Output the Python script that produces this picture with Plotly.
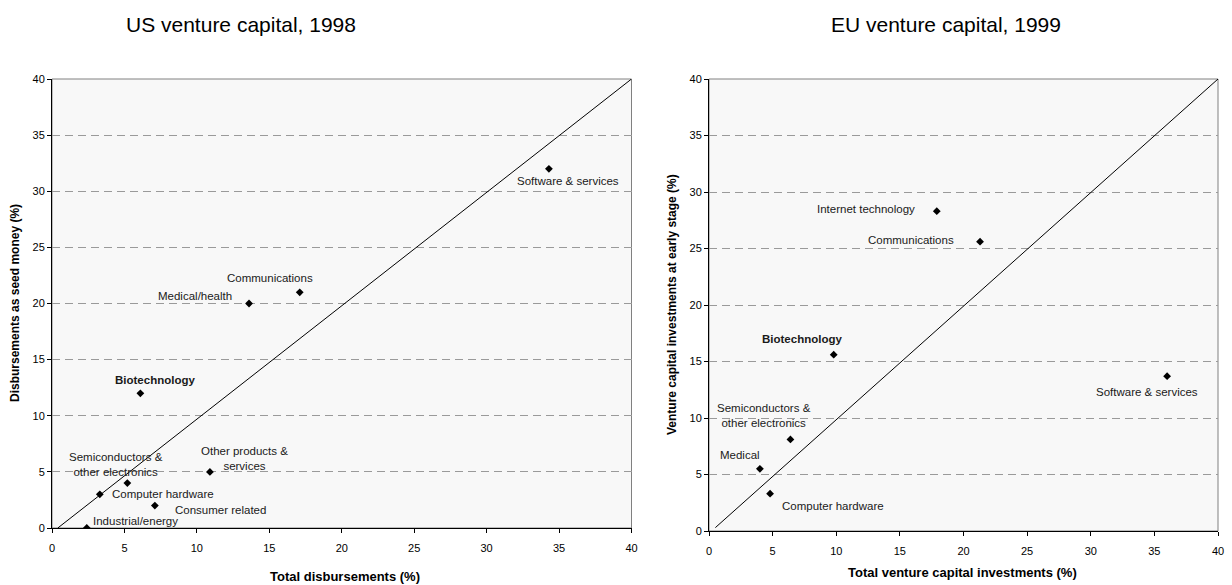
import plotly.graph_objects as go

# US venture capital, 1998
us_sectors = ["Software & services", "Communications", "Medical/health", "Biotechnology",
              "Other products &<br>services", "Semiconductors &<br>other electronics",
              "Computer hardware", "Consumer related", "Industrial/energy"]
us_total = [34.3, 17.1, 13.6, 6.1, 10.9, 5.2, 3.3, 7.1, 2.4]
us_seed = [32, 21, 20, 12, 5, 4, 3, 2, 0]

# EU venture capital, 1999
eu_sectors = ["Internet technology", "Communications", "Software & services", "Biotechnology",
              "Semiconductors &<br>other electronics", "Medical", "Computer hardware"]
eu_total = [17.9, 21.3, 36.0, 9.8, 6.4, 4.0, 4.8]
eu_early = [28.3, 25.6, 13.7, 15.6, 8.1, 5.5, 3.3]

# reference diagonals
us_diag_x = [0.4, 40]
us_diag_y = [0, 40]
eu_diag_x = [0.5, 40]
eu_diag_y = [0.3, 40]

# label offsets in pixels (dx, dy) relative to each marker
us_offsets = [(19, -12), (-30, 14), (-54, 8), (15, 13), (35, 13), (-11, 19), (63, 0), (66, -4), (49, 7)]
eu_offsets = [(-71, 2), (-69, 2), (-20, -16), (-32, 16), (-26, 24), (-20, 14), (63, -12)]

W, H = 1232, 585
FONT = "Arial, Liberation Sans, sans-serif"

fig = go.Figure()

fig.add_trace(go.Scatter(x=us_diag_x, y=us_diag_y, mode="lines", line=dict(color="black", width=1),
                         xaxis="x", yaxis="y", hoverinfo="skip"))
fig.add_trace(go.Scatter(x=us_total, y=us_seed, mode="markers", text=us_sectors,
                         marker=dict(symbol="diamond", size=6, color="black"),
                         xaxis="x", yaxis="y"))
fig.add_trace(go.Scatter(x=eu_diag_x, y=eu_diag_y, mode="lines", line=dict(color="black", width=1),
                         xaxis="x2", yaxis="y2", hoverinfo="skip"))
fig.add_trace(go.Scatter(x=eu_total, y=eu_early, mode="markers", text=eu_sectors,
                         marker=dict(symbol="diamond", size=6, color="black"),
                         xaxis="x2", yaxis="y2"))

annotations = []
for xr, yr, names, xs, ys, offs in [("x", "y", us_sectors, us_total, us_seed, us_offsets),
                                    ("x2", "y2", eu_sectors, eu_total, eu_early, eu_offsets)]:
    for name, x, y, (dx, dy) in zip(names, xs, ys, offs):
        label = f"<b>{name}</b>" if name == "Biotechnology" else name
        annotations.append(dict(x=x, y=y, xref=xr, yref=yr, text=label, showarrow=False,
                                xanchor="center", yanchor="middle", xshift=dx, yshift=dy,
                                align="center", font=dict(size=11.5, color="#1a1a1a", family=FONT)))


def paper_text(px, py, text, size, angle=0):
    return dict(x=px / W, y=1 - py / H, xref="paper", yref="paper", text=text, showarrow=False,
                xanchor="center", yanchor="middle", textangle=angle,
                font=dict(size=size, color="black", family=FONT))


annotations += [
    paper_text(241, 25, "US venture capital, 1998", 21),
    paper_text(946, 25, "EU venture capital, 1999", 21),
    paper_text(345, 576, "<b>Total disbursements (%)</b>", 13),
    paper_text(963, 572, "<b>Total venture capital investments (%)</b>", 13),
    paper_text(15, 303, "<b>Disbursements as seed money (%)</b>", 12, -90),
    paper_text(672, 305, "<b>Venture capital investments at early stage (%)</b>", 12, -90),
]

axis_common = dict(range=[0, 40], dtick=5, tick0=0, ticks="outside", ticklen=4, tickcolor="black",
                   showline=True, linecolor="black", linewidth=1, zeroline=False, automargin=False,
                   tickfont=dict(size=11, color="black", family=FONT), fixedrange=True)
xgrid = dict(showgrid=False, ticklabelstandoff=6)
ygrid = dict(showgrid=True, gridcolor="#9a9a9a", griddash="8px,5px", gridwidth=1)

shapes = []
for xr, yr in [("x", "y"), ("x2", "y2")]:
    shapes.append(dict(type="rect", xref=f"{xr} domain", yref=f"{yr} domain", x0=0, x1=1, y0=0, y1=1,
                       line=dict(color="#808080", width=1), layer="below"))

fig.update_layout(
    width=W, height=H,
    margin=dict(l=0, r=0, t=0, b=0, autoexpand=False),
    paper_bgcolor="white",
    plot_bgcolor="#F8F8F8",
    showlegend=False,
    xaxis=dict(domain=[52 / W, 631.5 / W], anchor="y", **axis_common, **xgrid),
    yaxis=dict(domain=[1 - 528 / H, 1 - 79 / H], anchor="x", **axis_common, **ygrid),
    xaxis2=dict(domain=[709 / W, 1218 / W], anchor="y2", **axis_common, **xgrid),
    yaxis2=dict(domain=[1 - 531 / H, 1 - 79 / H], anchor="x2", **axis_common, **ygrid),
    annotations=annotations,
    shapes=shapes,
    font=dict(family=FONT),
)

# drop the browser's default 8px body margin so the figure sits at the page origin
fig.write_html("out.html", config={"displayModeBar": False},
               post_script="document.body.style.margin='0px';")
